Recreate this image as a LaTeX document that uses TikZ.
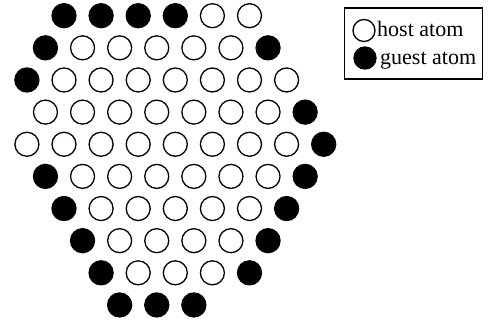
\documentclass[tikz,border=0pt]{standalone}
\usepackage{fontspec}
\setmainfont{Liberation Serif}
\begin{document}
\begin{tikzpicture}[x=1pt,y=-1pt,
  atom/.style={circle,draw=black,line width=1.3pt,minimum size=24pt,inner sep=0pt},
  H/.style={atom,fill=white},
  G/.style={atom,fill=black},
  latom/.style={circle,draw=black,line width=1.3pt,minimum size=22pt,inner sep=0pt},
  ltext/.style={anchor=base west,inner sep=0pt,font=\fontsize{22}{22}\selectfont}]
\useasboundingbox (0,0) rectangle (493,326);
\foreach \row/\k/\pat in {
  1/2/{G,G,G,G,H,H},
  2/1/{G,H,H,H,H,H,G},
  3/0/{G,H,H,H,H,H,H,H},
  4/1/{H,H,H,H,H,H,H,G},
  5/0/{H,H,H,H,H,H,H,H,G},
  6/1/{G,H,H,H,H,H,H,G},
  7/2/{G,H,H,H,H,H,G},
  8/3/{G,H,H,H,H,G},
  9/4/{G,H,H,H,G},
  10/5/{G,G,G}} {
  \foreach \t [count=\i from 0] in \pat {
    \node[\t] (a\row-\i) at ({26.9+18.55*\k+37.1*\i},{15.7+32.14*(\row-1)}) {};
  }
}
\node[draw=black,line width=1.1pt,minimum width=138pt,minimum height=71pt,inner sep=0pt] (legend) at (413.5,43.5) {};
\node[latom,fill=white] (lh) at (364,30.5) {};
\node[latom,fill=black] (lg) at (365,58) {};
\node[ltext] (th) at (377,37) {host atom};
\node[ltext] (tg) at (380,65) {guest atom};
\end{tikzpicture}
\end{document}
